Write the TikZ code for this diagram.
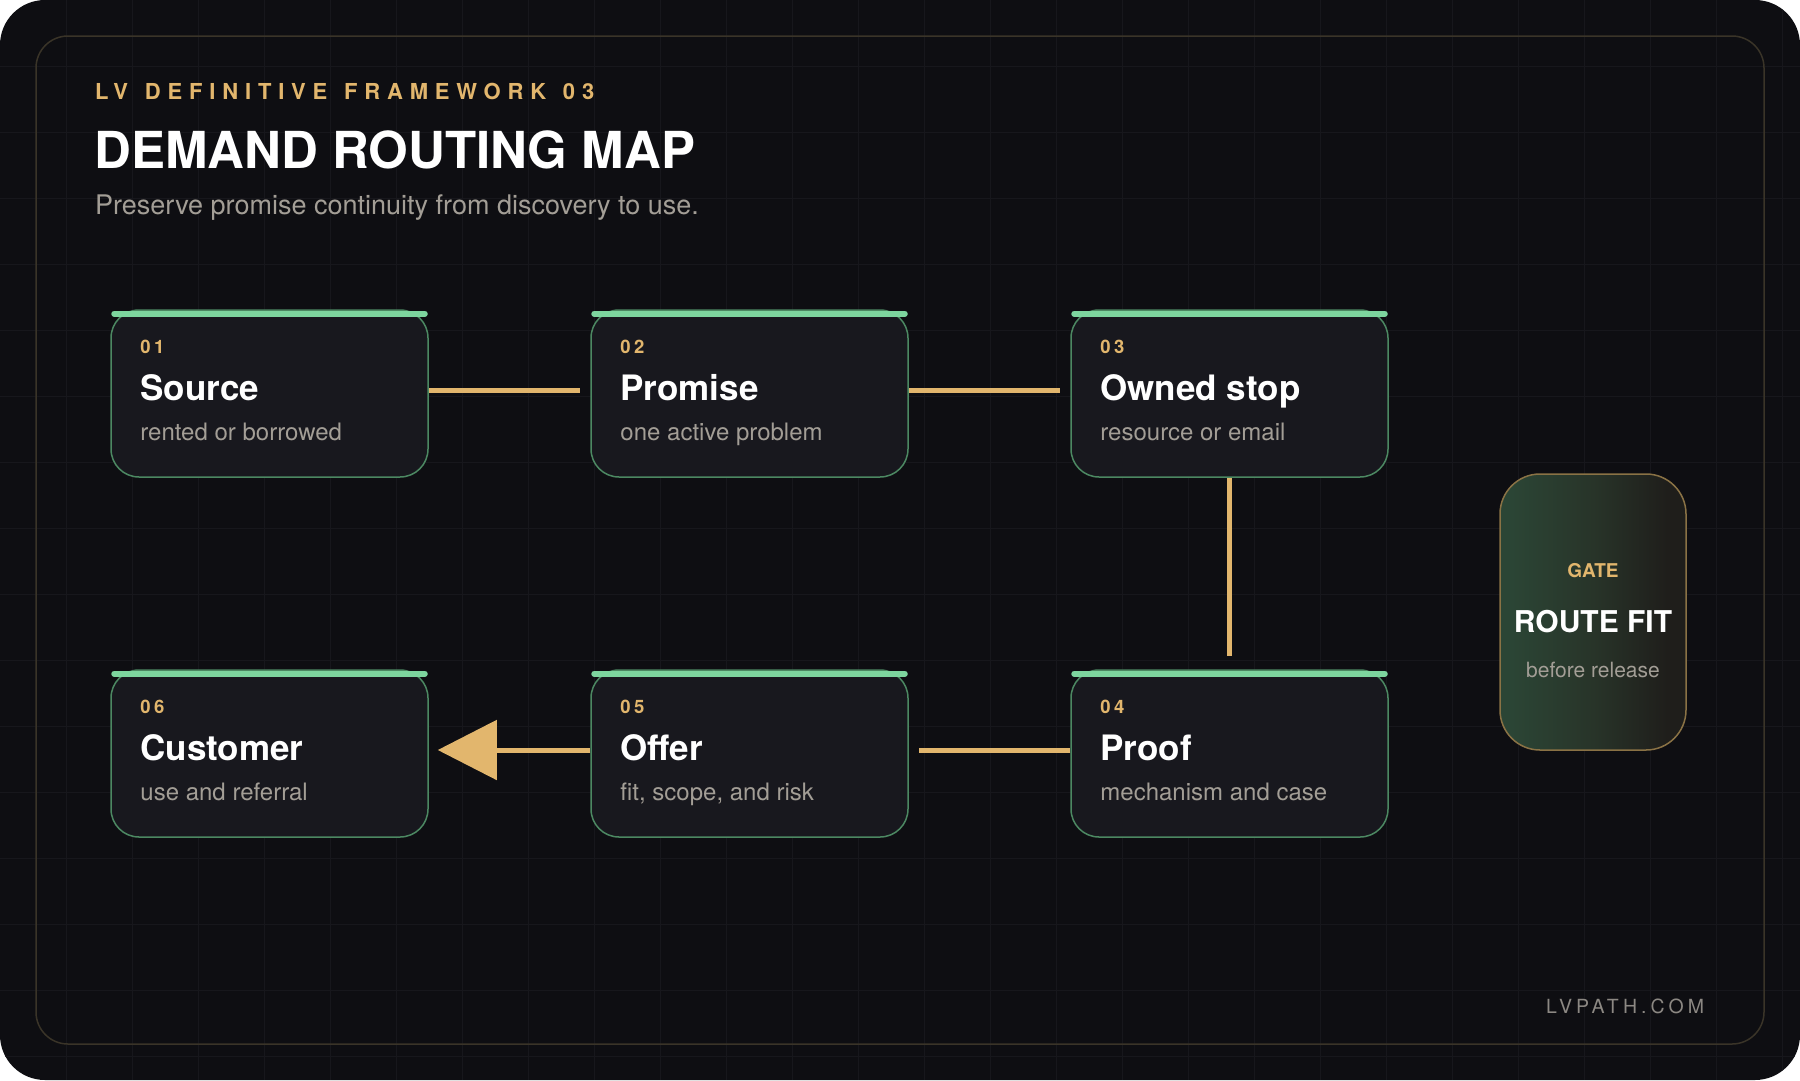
\documentclass[tikz,border=0pt]{standalone}
\usepackage{fontspec}
\setmainfont{TeX Gyre Heros}
\newfontfamily\kickerfont[LetterSpace=31,WordSpace=1.3]{TeX Gyre Heros}
\newfontfamily\numfont[LetterSpace=18]{TeX Gyre Heros}
\newfontfamily\urlfont[LetterSpace=21]{TeX Gyre Heros}
\usetikzlibrary{arrows.meta}
\definecolor{bgdark}{HTML}{0E0E12}
\definecolor{gridc}{HTML}{17171C}
\definecolor{framec}{HTML}{3A3428}
\definecolor{boxfill}{HTML}{18181E}
\definecolor{boxline}{HTML}{4C8862}
\definecolor{barc}{HTML}{7DD59E}
\definecolor{gold}{HTML}{E2B66D}
\definecolor{greytext}{HTML}{A39E96}
\definecolor{urlgrey}{HTML}{8C8883}
\definecolor{gateL}{HTML}{2B4535}
\definecolor{gateM}{HTML}{283429}
\definecolor{gateR}{HTML}{1F1E1B}
\definecolor{gateline}{HTML}{8A7245}
\pgfdeclarehorizontalshading{gateshade}{100bp}{color(0bp)=(gateL); color(28bp)=(gateL); color(50bp)=(gateM); color(70bp)=(gateR); color(100bp)=(gateR)}
\tikzset{
  gridline/.style={draw=gridc, line width=1pt},
  stagebox/.style={draw=boxline, line width=1.5pt, fill=boxfill, rounded corners=28pt, minimum width=317pt, minimum height=167pt, inner sep=0pt},
  topbar/.style={draw=barc, line width=6pt, line cap=round},
  numtext/.style={font=\numfont\bfseries\fontsize{18.5}{20}\selectfont, text=gold, inner sep=0pt, anchor=base west},
  titletext/.style={font=\bfseries\fontsize{35}{40}\selectfont, text=white, inner sep=0pt, anchor=base west},
  subtext/.style={font=\fontsize{24}{28}\selectfont, text=greytext, inner sep=0pt, anchor=base west},
  flow/.style={draw=gold, line width=5pt},
  gatebox/.style={draw=gateline, line width=1.5pt, shading=gateshade, rounded corners=40pt, minimum width=186pt, minimum height=276pt, inner sep=0pt}
}
\begin{document}
\begin{tikzpicture}[x=1pt,y=-1pt]
\useasboundingbox (0,0) rectangle (1800,1080);
\fill[white] (0,0) rectangle (1800,1080);
\fill[bgdark, rounded corners=45pt] (0,0) rectangle (1800,1080);
\begin{scope}
  \clip[rounded corners=45pt] (0,0) rectangle (1800,1080);
  \foreach \i in {1,...,27} \draw[gridline] (\i*66,0) -- (\i*66,1080);
  \foreach \j in {1,...,16} \draw[gridline] (0,\j*66) -- (1800,\j*66);
\end{scope}
\draw[framec, line width=1.5pt, rounded corners=32pt] (36,36) rectangle (1764,1044);

% header
\node[font=\kickerfont\bfseries\fontsize{22}{26}\selectfont, text=gold, anchor=base west, inner sep=0pt] (kicker) at (95,99) {LV DEFINITIVE FRAMEWORK 03};
\node[font=\bfseries\fontsize{51}{60}\selectfont, text=white, anchor=base west, inner sep=0pt] (title) at (94,168) {DEMAND ROUTING MAP};
\node[font=\fontsize{27}{30}\selectfont, text=greytext, anchor=base west, inner sep=0pt] (subtitle) at (95,214) {Preserve promise continuity from discovery to use.};

% boxes
\node[stagebox] (b1) at (269.5,393.5) {};
\node[stagebox] (b2) at (749.5,393.5) {};
\node[stagebox] (b3) at (1229.5,393.5) {};
\node[stagebox] (b4) at (1229.5,753.5) {};
\node[stagebox] (b5) at (749.5,753.5) {};
\node[stagebox] (b6) at (269.5,753.5) {};

\foreach \b/\n/\t/\s in {b1/01/Source/rented or borrowed, b2/02/Promise/one active problem, b3/03/Owned stop/resource or email, b4/04/Proof/mechanism and case, b5/05/Offer/{fit, scope, and risk}, b6/06/Customer/use and referral}{
  \draw[topbar] ([xshift=4pt,yshift=-4.5pt]\b.north west) -- ([xshift=-4pt,yshift=-4.5pt]\b.north east);
  \node[numtext] (\b num) at ([xshift=30pt,yshift=-44pt]\b.north west) {\n};
  \node[titletext] (\b title) at ([xshift=30pt,yshift=-91pt]\b.north west) {\t};
  \node[subtext] (\b sub) at ([xshift=30pt,yshift=-131pt]\b.north west) {\s};
}

% connectors
\draw[flow] ([yshift=3.5pt]b1.east) -- ([xshift=-10pt,yshift=3.5pt]b2.west);
\draw[flow] ([yshift=3.5pt]b2.east) -- ([xshift=-10pt,yshift=3.5pt]b3.west);
\draw[flow] (b3.south) -- ([yshift=13pt]b4.north);
\draw[flow] ([yshift=3.5pt]b4.west) -- ([xshift=10pt,yshift=3.5pt]b5.east);
\draw[flow, -{Triangle[length=59pt,width=59pt]}] ([yshift=3.5pt]b5.west) -- ([xshift=9pt,yshift=3.5pt]b6.east);

% gate
\node[gatebox] (gate) at (1593,612) {};
\node[font=\bfseries\fontsize{19}{22}\selectfont, text=gold, anchor=base, inner sep=0pt] (gatelabel) at (1593,577) {GATE};
\node[font=\bfseries\fontsize{30}{34}\selectfont, text=white, anchor=base, inner sep=0pt] (gatetitle) at (1593,632) {ROUTE FIT};
\node[font=\fontsize{21}{24}\selectfont, text=greytext, anchor=base, inner sep=0pt] (gatesub) at (1593,677) {before release};

% footer
\node[font=\urlfont\fontsize{19.5}{22}\selectfont, text=urlgrey, anchor=base west, inner sep=0pt] (url) at (1546,1013) {LVPATH.COM};
\end{tikzpicture}
\end{document}
